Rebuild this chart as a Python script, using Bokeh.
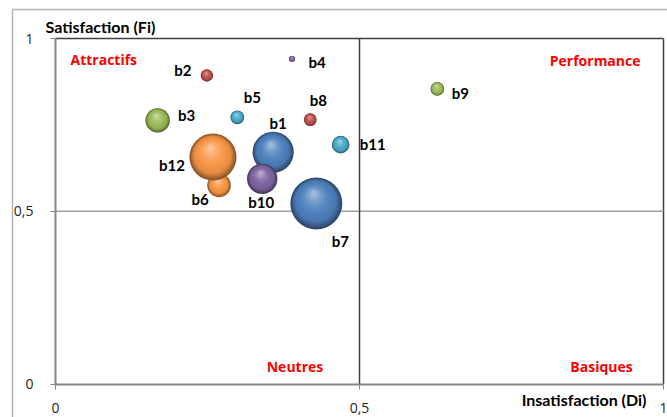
from bokeh.plotting import figure
from bokeh.models import ColumnDataSource, FixedTicker, CustomJSTickFormatter
from bokeh.core.properties import value
from bokeh.embed import file_html
from bokeh.resources import INLINE
import numpy as np

# ---- data ----
labels = ["b1", "b2", "b3", "b4", "b5", "b6", "b7", "b8", "b9", "b10", "b11", "b12"]
di = [0.358, 0.249, 0.168, 0.389, 0.299, 0.269, 0.429, 0.419, 0.628, 0.340, 0.469, 0.259]
fi = [0.671, 0.893, 0.763, 0.941, 0.772, 0.575, 0.523, 0.765, 0.854, 0.594, 0.693, 0.657]
weights = [62.8, 5.6, 22.2, 1.3, 7.0, 20.5, 100.0, 6.0, 7.0, 34.2, 11.5, 82.0]
x_ticks = [0, 0.5, 1]
y_ticks = [0, 0.5, 1]
threshold = 0.5
quadrants = ["Attractifs", "Performance", "Neutres", "Basiques"]
x_title = "Insatisfaction (Di)"
y_title = "Satisfaction (Fi)"

# ---- layout / styles ----
W, H = 667, 417
X0, X1 = 55.0, 663.0          # px of data x=0 and x=1
Y0, Y1 = 383.7, 38.0          # px of data y=0 and y=1
PX = X1 - X0                  # px per x unit
PY = Y0 - Y1                  # px per y unit


def dx(px):
    return (px - X0) / PX


def dy(py):
    return (Y0 - py) / PY


palette = ["#4F81BD", "#C0504D", "#9BBB59", "#8064A2", "#4BACC6", "#F79646"]
max_diam = 52.0

label_off = {  # pixel offsets (dx, dy screen-down)
    "b1": (5, -29), "b2": (-24, -5), "b3": (29, -5), "b4": (25, 3),
    "b5": (15, -20), "b6": (-19, 14), "b7": (24, 38), "b8": (8, -20),
    "b9": (23, 4), "b10": (-1, 23), "b11": (32, -1), "b12": (-41, 8),
}


def hex2rgb(h):
    h = h.lstrip("#")
    return np.array([int(h[i:i + 2], 16) for i in (0, 2, 4)], dtype=float)


def rgb2hex(c):
    c = np.clip(c, 0, 255).round().astype(int)
    return "#%02x%02x%02x" % tuple(c)


# shaded sphere layers (bubble-major order keeps Excel drawing order)
n_layers = 16
fracs = np.linspace(1.0, 0.1, n_layers)
lx, ly, ls, lc = [], [], [], []
for i, (x, y, w) in enumerate(zip(di, fi, weights)):
    d = max_diam * np.sqrt(w / 100.0)
    r = d / 2
    base = hex2rgb(palette[i % len(palette)])
    for f in fracs:
        t = 1 - f  # 0 at rim, 0.9 at highlight
        if t < 0.2:
            s = -0.42 + t / 0.2 * 0.37
        else:
            s = -0.05 + ((t - 0.2) / 0.7) ** 1.8 * 0.5
        off_x = -0.12 * r * t
        off_y = 0.42 * r * t
        lx.append(x + off_x / PX)
        ly.append(y + off_y / PY)
        ls.append(d * f)
        c = base * (1 + s) if s < 0 else base + (255 - base) * s
        lc.append(rgb2hex(c))

src = ColumnDataSource(dict(x=lx, y=ly, size=ls, color=lc))

p = figure(width=W, height=H,
           x_range=(dx(0), dx(W)), y_range=(dy(H), dy(0)),
           output_backend="svg", toolbar_location=None,
           min_border=0, min_border_left=0, min_border_right=0,
           min_border_top=0, min_border_bottom=0)
p.background_fill_color = "white"
p.border_fill_color = "white"
p.outline_line_color = None
p.grid.visible = False

# axes, drawn at data 0 inside the frame
for ax in (p.xaxis[0], p.yaxis[0]):
    ax.fixed_location = 0
    ax.bounds = (0, 1)
    ax.axis_line_color = "#868686"
    ax.axis_line_width = 2
    ax.major_tick_line_color = "#868686"
    ax.minor_tick_line_color = None
    ax.major_tick_in = 0
    ax.major_tick_out = 5
    ax.major_label_text_font = "Open Sans"
    ax.major_label_text_font_size = "14px"
    ax.major_label_text_color = "#262626"
p.xaxis.ticker = FixedTicker(ticks=x_ticks)
p.yaxis.ticker = FixedTicker(ticks=y_ticks)
fmt = CustomJSTickFormatter(code="return String(tick).replace('.', ',');")
p.xaxis.formatter = fmt
p.yaxis.formatter = fmt
p.xaxis.major_label_standoff = 14
p.yaxis.major_label_standoff = 17

# outer chart border (light grey, left and top)
p.segment(x0=[dx(12), dx(12)], y0=[dy(9), dy(9)], x1=[dx(12), dx(W + 5)], y1=[dy(H + 5), dy(9)],
          line_color="#b4b4b4", line_width=1.5)

# plot-area border (top and right) and quadrant lines
p.segment(x0=[0, 1], y0=[1, 0], x1=[1, 1], y1=[1, 1], line_color="#404040", line_width=1.5)
p.segment(x0=[0], y0=[threshold], x1=[1], y1=[threshold], line_color="#a0a0a0", line_width=1.5)
p.segment(x0=[threshold], y0=[0], x1=[threshold], y1=[1], line_color="#404040", line_width=1.5)

# bubbles
p.scatter("x", "y", size="size", fill_color="color", line_color=None, source=src)

# bubble labels
for name, x, y in zip(labels, di, fi):
    ox, oy = label_off[name]
    p.text([x], [y], text=[name], x_offset=ox, y_offset=oy,
           text_align="center", text_baseline="middle",
           text_font=value("Lato"), text_font_style="bold",
           text_font_size="15px", text_color="black")

# quadrant labels
qx = [dx(70), dx(640), dx(294.5), dx(601)]
qy = [dy(59), dy(60), dy(366), dy(366)]
qa = ["left", "right", "center", "center"]
for t, x, y, a in zip(quadrants, qx, qy, qa):
    p.text([x], [y], text=[t], text_align=a, text_baseline="middle",
           text_font=value("Open Sans"), text_font_style="bold",
           text_font_size="14px", text_color="#ff0000")

# axis titles
p.text([dx(45)], [dy(26)], text=[y_title], text_align="left", text_baseline="middle",
       text_font=value("Lato"), text_font_style="bold", text_font_size="16px", text_color="black")
p.text([dx(646)], [dy(399)], text=[x_title], text_align="right", text_baseline="middle",
       text_font=value("Lato"), text_font_style="bold", text_font_size="16px", text_color="black")

open("out.html", "w").write(file_html(p, INLINE))
